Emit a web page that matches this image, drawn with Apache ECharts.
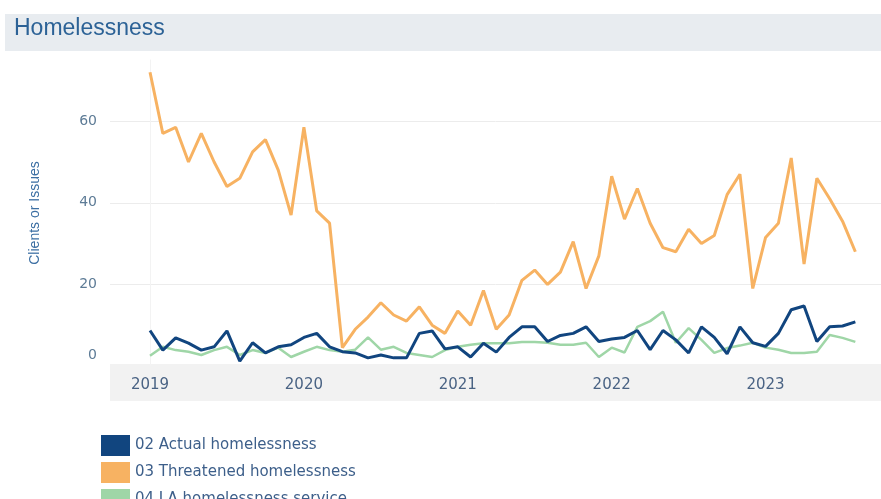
<!DOCTYPE html>
<html lang="en">
<head>
    <meta charset="UTF-8">
    <title>Homelessness</title>
    <script src="https://cdn.jsdelivr.net/npm/echarts@6/dist/echarts.min.js"></script>
    <style>
        html, body { margin: 0; padding: 0; background: #fff; }
        #chart { width: 881px; height: 499px; }
    </style>
</head>
<body>
<div id="chart"></div>
<script>
    // tick labels (one per January), data is monthly from Jan 2019
    var yearLabels = ['2019', '2020', '2021', '2022', '2023'];
    var yearTicks = [0, 12, 24, 36, 48];
    var seriesNames = ['02 Actual homelessness', '03 Threatened homelessness', '04 LA homelessness service'];

    var actual = [
        8.7, 3.9, 6.9, 5.6, 3.9, 4.7, 8.6, 1.2, 5.7, 3.2, 4.7, 5.2,
        7, 8, 4.7, 3.5, 3.2, 2, 2.7, 2, 2, 8, 8.6, 4.2,
        4.7, 2.2, 5.6, 3.4, 7, 9.6, 9.6, 6, 7.5, 8, 9.6, 6,
        6.6, 7, 8.7, 4, 8.7, 6.4, 3.2, 9.6, 7, 3, 9.6, 5.7,
        4.8, 8, 13.8, 14.7, 6, 9.6, 9.8, 10.8
    ];
    var threatened = [
        72, 57, 58.5, 50, 57, 50, 44, 46, 52.5, 55.5, 48, 37,
        58.5, 38, 35, 4.5, 9, 12, 15.5, 12.5, 11, 14.5, 10, 8,
        13.5, 10, 18.5, 9, 12.5, 21, 23.5, 20, 23, 30.5, 19, 27,
        46.5, 36, 43.5, 35, 29, 28, 33.5, 30, 32, 42, 47, 19,
        31.5, 35, 51, 25, 46, 41, 35.5, 28
    ];
    var laService = [
        2.5, 4.7, 3.9, 3.5, 2.7, 3.9, 4.7, 2.7, 3.9, 3.2, 4.5, 2.2,
        3.5, 4.7, 3.9, 3.5, 4, 7, 4, 4.7, 3.2, 2.7, 2.2, 3.9,
        4.7, 5.2, 5.6, 5.6, 5.6, 5.9, 5.9, 5.7, 5.2, 5.2, 5.7, 2.2,
        4.5, 3.3, 9.6, 11, 13.3, 5.7, 9.3, 6.4, 3.2, 4.4, 5, 5.7,
        4.5, 4, 3.2, 3.2, 3.5, 7.6, 6.9, 5.9
    ];

    function toPoints(arr) {
        var out = [];
        for (var i = 0; i < arr.length; i++) out.push([i, arr[i]]);
        return out;
    }

    // one legend per row so the list never wraps into a second column
    function legendRow(name, top) {
        return {
            left: 96,
            top: top,
            icon: 'rect',
            itemWidth: 29,
            itemHeight: 21,
            itemGap: 8,
            textStyle: {
                fontFamily: 'DejaVu Sans',
                fontSize: 15,
                color: '#3d5f8a'
            },
            data: [name]
        };
    }

    var chart = echarts.init(document.getElementById('chart'));

    var option = {
        animation: false,
        title: {
            text: 'Homelessness',
            left: 9,
            top: 12,
            textStyle: {
                fontFamily: 'Liberation Sans',
                fontSize: 23,
                fontWeight: 'normal',
                color: '#2c6296'
            }
        },
        graphic: [
            { type: 'rect', z: -1, shape: { x: 5, y: 14, width: 876, height: 37 }, style: { fill: '#e8ecf0' } },
            { type: 'rect', z: -1, shape: { x: 110, y: 364, width: 771, height: 37 }, style: { fill: '#f2f2f2' } }
        ],
        legend: [
            legendRow(seriesNames[0], 430),
            legendRow(seriesNames[1], 457),
            legendRow(seriesNames[2], 484)
        ],
        grid: {
            left: 110,
            right: 0,
            top: 60,
            bottom: 133
        },
        xAxis: {
            type: 'value',
            min: -3.12,
            max: 57,
            axisLine: { show: false },
            axisTick: { show: false },
            splitLine: { show: false },
            axisLabel: {
                customValues: yearTicks,
                formatter: function (v) { return yearLabels[Math.round(v / 12)]; },
                margin: 12,
                fontFamily: 'DejaVu Sans',
                fontSize: 15,
                color: '#4a6384'
            }
        },
        yAxis: {
            type: 'value',
            min: 0,
            max: 75,
            interval: 20,
            name: 'Clients or Issues',
            nameLocation: 'middle',
            nameGap: 68,
            nameTextStyle: {
                fontFamily: 'Liberation Sans',
                fontSize: 14,
                color: '#3c6fa3'
            },
            axisLine: { show: true, lineStyle: { color: '#f3f3f3' } },
            axisTick: { show: false },
            splitLine: { showMinLine: false, showMaxLine: false, lineStyle: { color: '#ececec' } },
            axisLabel: {
                showMaxLabel: false,
                margin: 13,
                fontFamily: 'DejaVu Sans',
                fontSize: 14,
                color: '#5d7b96',
                formatter: function (v) { return v === 0 ? '{z|0}' : String(v); },
                rich: {
                    z: { fontFamily: 'DejaVu Sans', fontSize: 14, color: '#5d7b96', padding: [0, 0, 22, 0] }
                }
            }
        },
        series: [
            {
                name: seriesNames[0],
                type: 'line',
                z: 4,
                color: '#11457f',
                showSymbol: false,
                lineStyle: { width: 3 },
                data: toPoints(actual)
            },
            {
                name: seriesNames[1],
                type: 'line',
                z: 3,
                color: '#f7b262',
                showSymbol: false,
                lineStyle: { width: 3 },
                data: toPoints(threatened)
            },
            {
                name: seriesNames[2],
                type: 'line',
                z: 2,
                color: '#9fd6a7',
                showSymbol: false,
                lineStyle: { width: 2.5 },
                data: toPoints(laService)
            }
        ]
    };
    chart.setOption(option);
</script>
</body>
</html>
